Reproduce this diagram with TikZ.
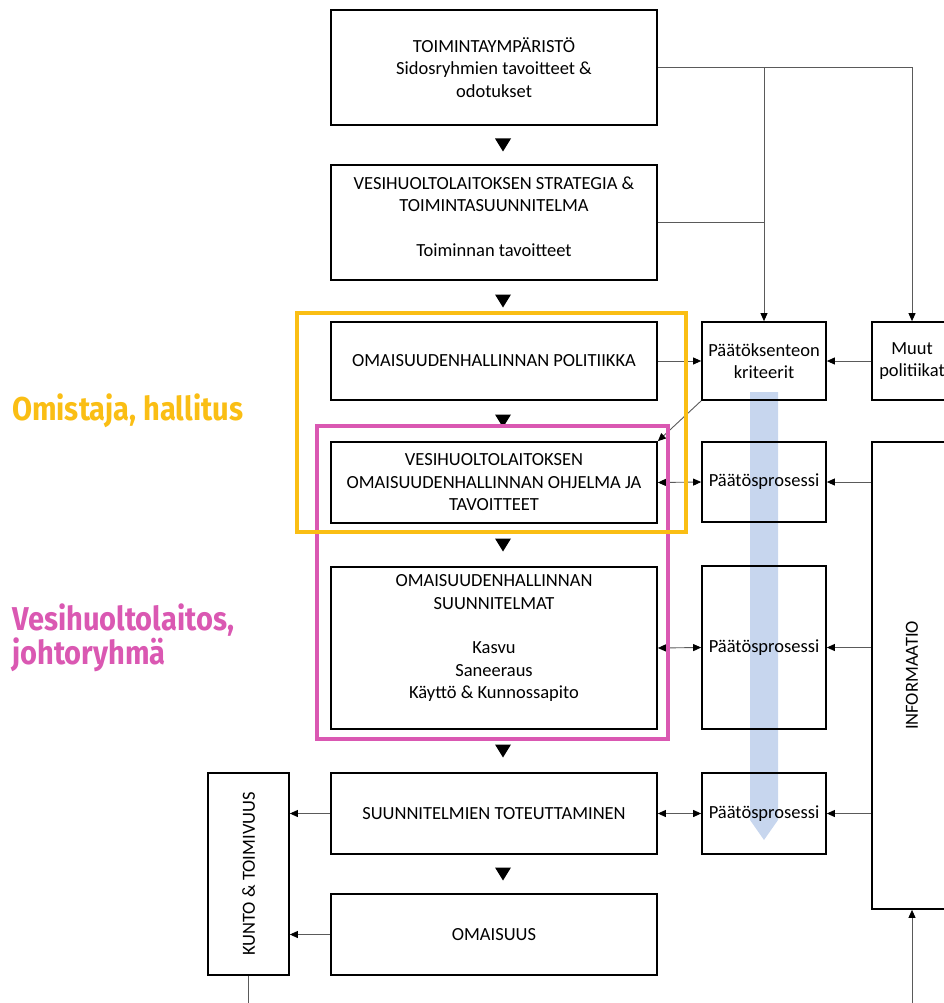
\documentclass[tikz,border=0pt]{standalone}
\usepackage{fontspec}
\setmainfont{Carlito}
\newfontfamily\labelfont{Fira Sans}
\usetikzlibrary{arrows.meta,calc}
\definecolor{frameyellow}{RGB}{250,190,20}
\definecolor{framemagenta}{RGB}{218,88,178}
\definecolor{flowblue}{RGB}{199,214,238}
\definecolor{connline}{RGB}{90,90,90}
\begin{document}
\begin{tikzpicture}[x=1pt,y=-1pt,
  box/.style={draw=black,line width=1.7pt,align=center,inner sep=2pt,
    font=\fontsize{18.5}{22.5}\selectfont},
  conn/.style={draw=connline,line width=0.9pt},
  tip/.style={-{Triangle[length=8pt,width=7pt,color=black]}},
  tips/.style={{Triangle[length=8pt,width=7pt,color=black]}-{Triangle[length=8pt,width=7pt,color=black]}},
  downtri/.style={fill=black},
  sidelabel/.style={anchor=base west,align=left,inner sep=0pt,
    font=\labelfont\bfseries\fontsize{33}{32}\selectfont}]
\clip (0,0) rectangle (944,1003);
% flow arrow (behind the boxes)
\fill[flowblue] (750,392) -- (778,392) -- (778,820) -- (764,840) -- (750,820) -- cycle;
% main column
\node[box,minimum width=326pt,minimum height=115pt] (b1) at (494,67.5)
  {TOIMINTAYMPÄRISTÖ\\Sidosryhmien tavoitteet \&\\odotukset};
\node[box,minimum width=326pt,minimum height=115pt] (b2) at (494,222.5)
  {VESIHUOLTOLAITOKSEN STRATEGIA \&\\TOIMINTASUUNNITELMA\\[22pt]Toiminnan tavoitteet\\[-10pt]\mbox{}};
\node[box,minimum width=326pt,minimum height=78pt] (b3) at (494,361)
  {OMAISUUDENHALLINNAN POLITIIKKA};
\node[box,minimum width=326pt,minimum height=81pt] (b4) at (494,482.5)
  {VESIHUOLTOLAITOKSEN\\OMAISUUDENHALLINNAN OHJELMA JA\\TAVOITTEET};
\node[box,minimum width=326pt,minimum height=162pt] (b5) at (494,648)
  {OMAISUUDENHALLINNAN\\SUUNNITELMAT\\[22pt]Kasvu\\Saneeraus\\Käyttö \& Kunnossapito\\\mbox{}};
\node[box,minimum width=326pt,minimum height=81pt] (b6) at (494,813.5)
  {SUUNNITELMIEN TOTEUTTAMINEN};
\node[box,minimum width=326pt,minimum height=81pt] (b7) at (494,934.5)
  {OMAISUUS};
% decision column
\node[box,minimum width=124pt,minimum height=78pt] (krit) at (764,361)
  {Päätöksenteon\\kriteerit};
\node[box,minimum width=124pt,minimum height=80pt] (p1) at (764,482)
  {Päätösprosessi};
\node[box,minimum width=124pt,minimum height=163pt] (p2) at (764,647.5)
  {Päätösprosessi};
\node[box,minimum width=124pt,minimum height=81pt] (p3) at (764,813.5)
  {Päätösprosessi};
% right column
\node[box,minimum width=80pt,minimum height=78pt] (muut) at (912,361)
  {Muut\\politiikat};
\node[box,minimum width=80pt,minimum height=467pt] (info) at (912,675.5)
  {\rotatebox{90}{INFORMAATIO}};
% left column
\node[box,minimum width=81pt,minimum height=202pt] (kunto) at (248.5,874)
  {\rotatebox{90}{KUNTO \& TOIMIVUUS}};
% down triangles between the boxes
\foreach \u/\l in {b1/b2,b2/b3,b3/b4,b4/b5,b5/b6,b6/b7}{
  \fill[downtri] ($(\u.south)!0.5!(\l.north)+(9,0)$) +(-8,-6.5) -- +(8,-6.5) -- +(0,6.5) -- cycle;
}
% connectors
\draw[conn,tip] (b1.east) -| (muut.north);
\draw[conn,tip] (b1.east -| krit.north) -- (krit.north);
\draw[conn] (b2.east) -- (b2.east -| krit.north);
\draw[conn,tip] (b3.east) -- (krit.west);
\draw[conn,tip] (muut.west) -- (krit.east);
\draw[conn,tip] (krit.south west) -- (b4.north east);
\draw[conn,tips] (b4.east) -- (p1.west);
\draw[conn,tips] (b5.east) -- (p2.west);
\draw[conn,tips] (b6.east) -- (p3.west);
\draw[conn,tip] (p1.east -| info.west) -- (p1.east);
\draw[conn,tip] (p2.east -| info.west) -- (p2.east);
\draw[conn,tip] (p3.east -| info.west) -- (p3.east);
\draw[conn,tip] (b6.west) -- (b6.west -| kunto.east);
\draw[conn,tip] (b7.west) -- (b7.west -| kunto.east);
\coordinate (loopturn) at ($(kunto.south)+(0,40)$);
\draw[conn,tip] (kunto.south) -- (loopturn) -| (info.south);
% role frames
\draw[framemagenta,line width=4pt] (317,426) rectangle (668,739);
\draw[frameyellow,line width=4pt] (297,313) rectangle (686,532);
% role labels
\node[sidelabel,text=frameyellow] (lblowner) at (12,420)
  {\scalebox{0.88}[1]{Omistaja, hallitus}};
\node[sidelabel,text=framemagenta] (lblutility) at (12,664)
  {\scalebox{0.88}[1]{Vesihuoltolaitos,}\\\scalebox{0.88}[1]{johtoryhmä}};
\end{tikzpicture}
\end{document}
